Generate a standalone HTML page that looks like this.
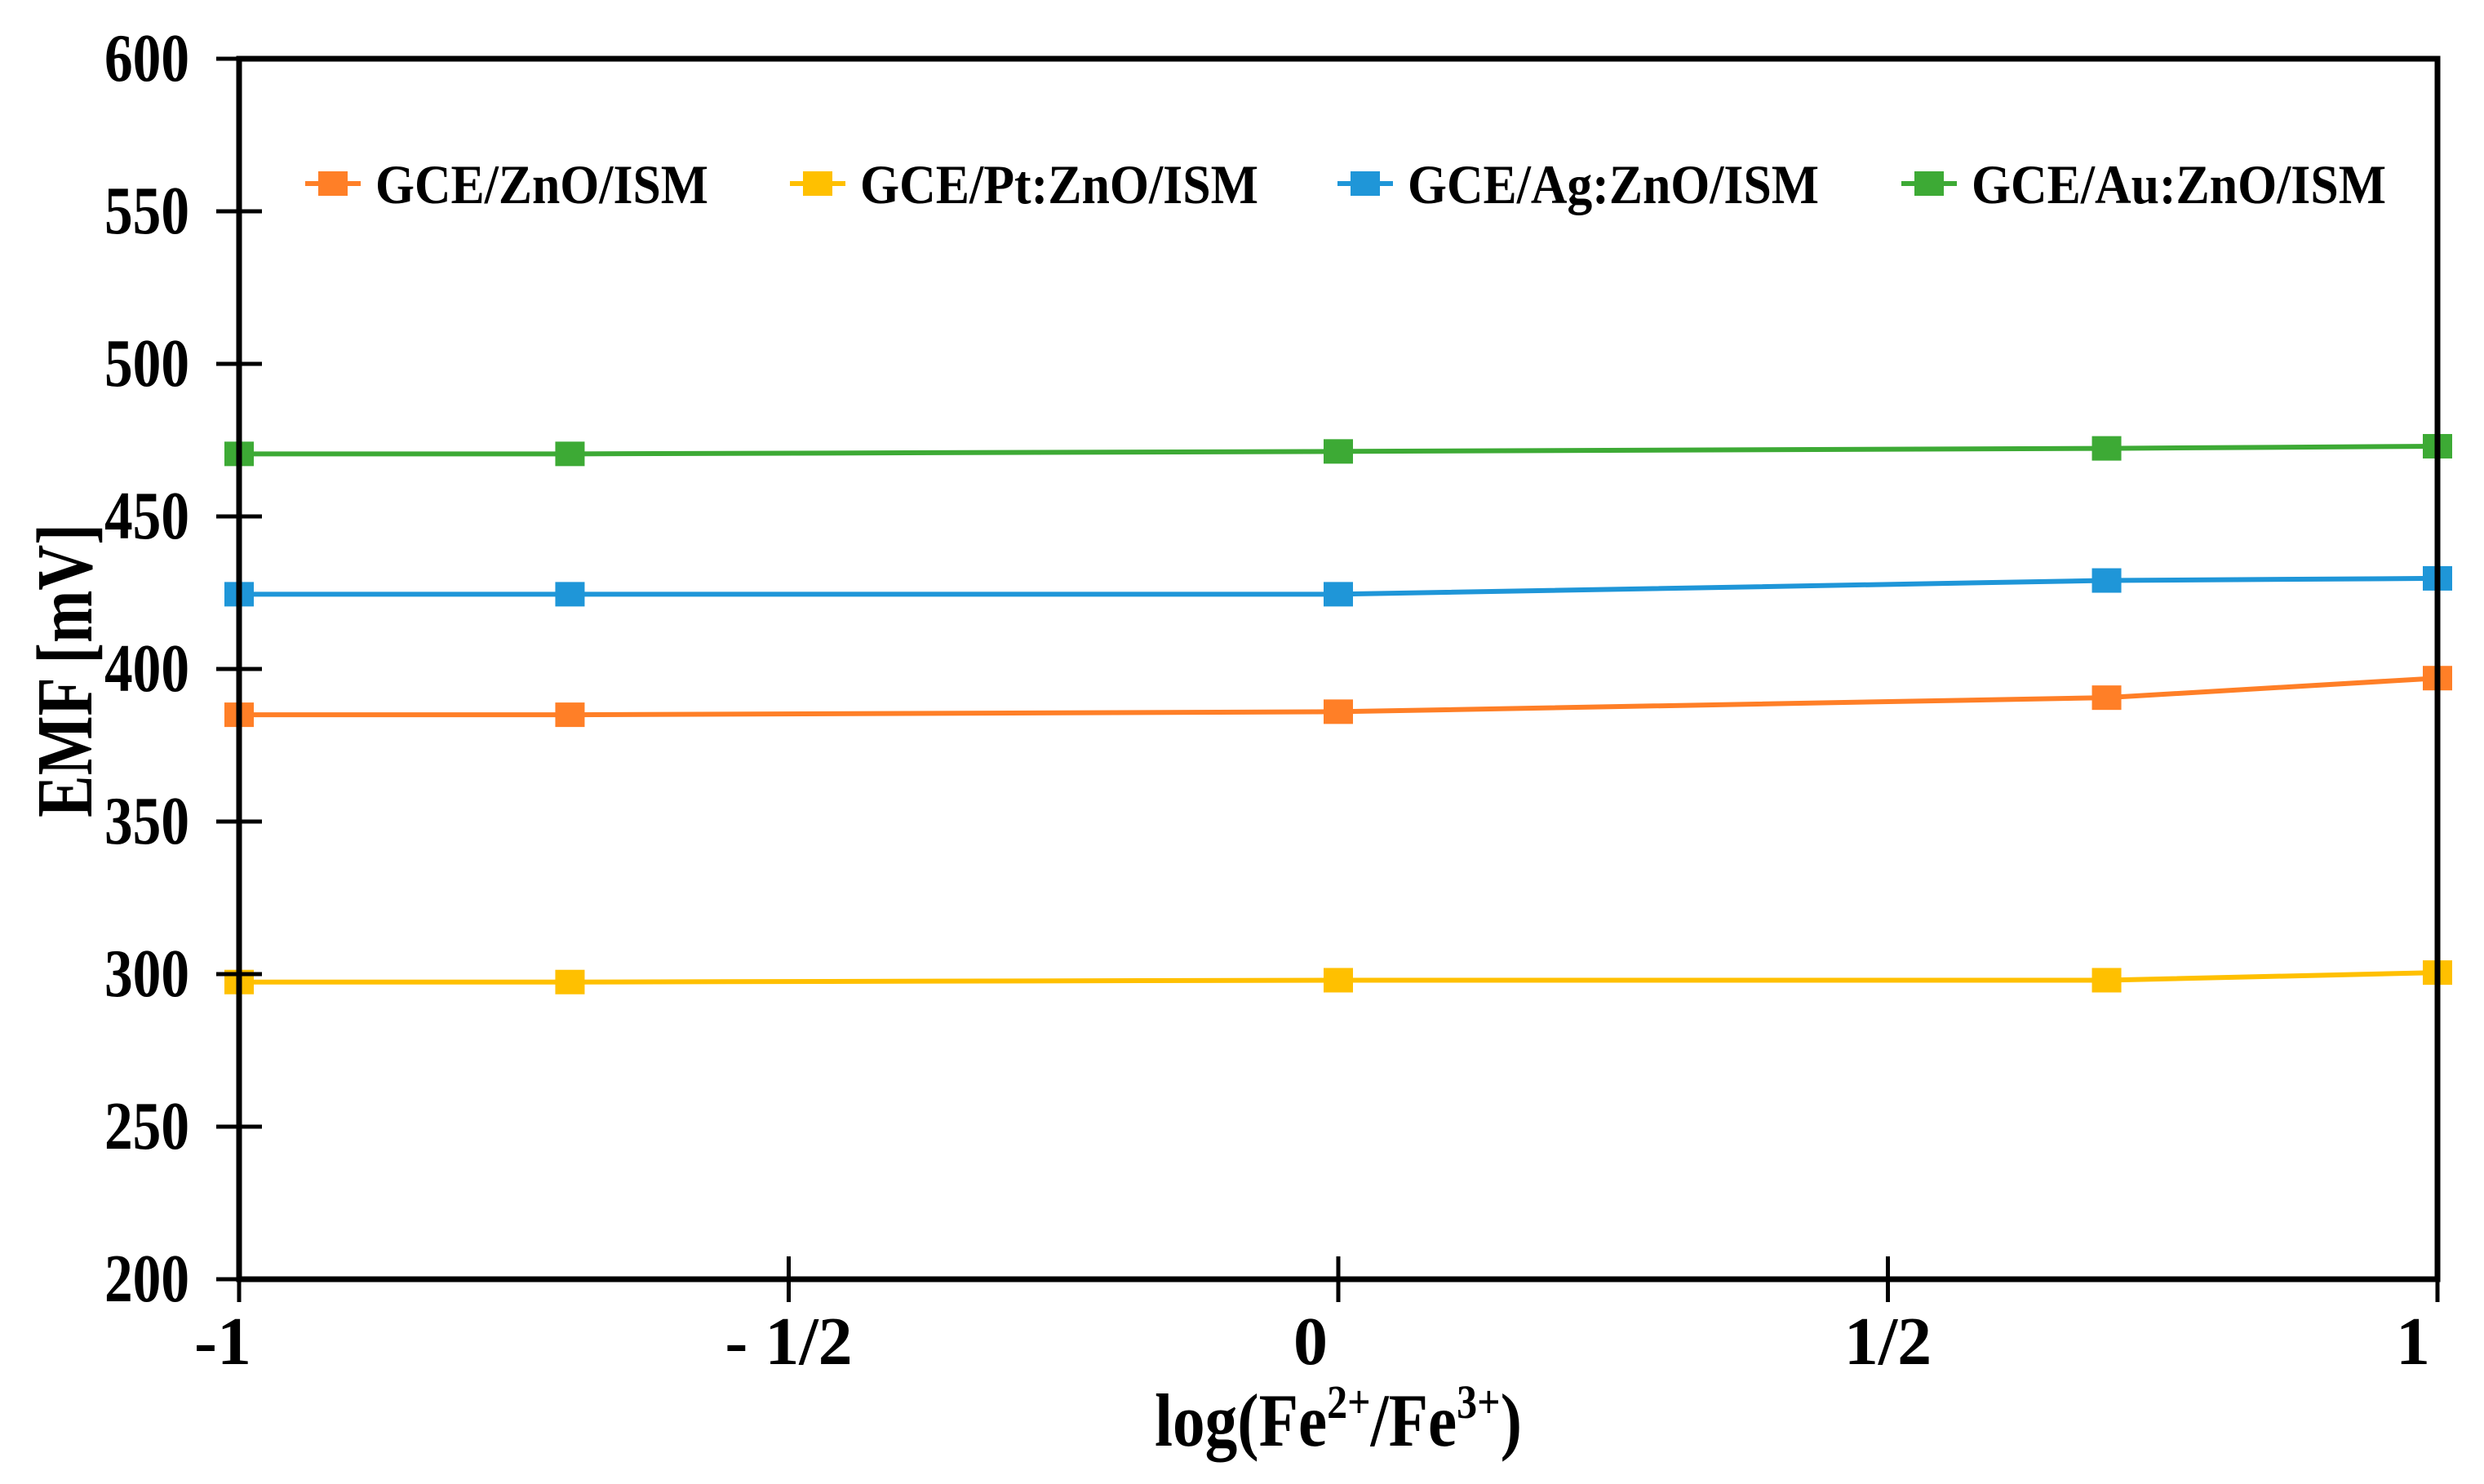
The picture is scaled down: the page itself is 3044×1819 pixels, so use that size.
<!DOCTYPE html>
<html><head><meta charset="utf-8"><style>
html,body{margin:0;padding:0;background:#fff;}
svg{display:block;font-family:"Liberation Serif","Times New Roman",serif;font-weight:bold;}
</style></head><body>
<svg id="chart" width="3044" height="1819" viewBox="0 0 3044 1819" xmlns="http://www.w3.org/2000/svg">
<g id="grid"></g><g id="series"></g><g id="axes"></g><g id="legend"></g>
<text x="0" y="0" font-size="98" textLength="360" lengthAdjust="spacingAndGlyphs" text-anchor="middle" transform="translate(112,822) rotate(-90)">EMF [mV]</text>
<text x="1640" y="1772" font-size="92" textLength="450" lengthAdjust="spacingAndGlyphs" text-anchor="middle">log(Fe<tspan font-size="58" dy="-34">2+</tspan><tspan dy="34">/Fe</tspan><tspan font-size="58" dy="-34">3+</tspan><tspan dy="34">)</tspan></text>
</svg>
<script>
const xValues = [-1, -0.699, 0, 0.699, 1];
const seriesNames = ["GCE/ZnO/ISM", "GCE/Pt:ZnO/ISM", "GCE/Ag:ZnO/ISM", "GCE/Au:ZnO/ISM"];
const znoValues = [385, 385, 386, 390.6, 397];
const ptValues = [297.4, 297.4, 298, 298, 300.5];
const agValues = [424.5, 424.5, 424.5, 429, 429.7];
const auValues = [470.5, 470.5, 471.3, 472.3, 473];
const yTicks = [200, 250, 300, 350, 400, 450, 500, 550, 600];
const xTicks = [-1, -0.5, 0, 0.5, 1];
const xTickLabels = ["-1", "- 1/2", "0", "1/2", "1"];

const colors = ["#FF7F27", "#FFC000", "#1F96D8", "#3DAA35"];
const allSeries = [znoValues, ptValues, agValues, auValues];
const L = 293, R = 2987, T = 72, B = 1568;
const xs = v => L + (v + 1) / 2 * (R - L);
const ys = v => B - (v - 200) / 400 * (B - T);
const NS = "http://www.w3.org/2000/svg";
function mk(tag, attrs, parent) {
  const e = document.createElementNS(NS, tag);
  for (const k in attrs) e.setAttribute(k, attrs[k]);
  parent.appendChild(e); return e;
}
const axes = document.getElementById('axes');
const sg = document.getElementById('series');
const lg = document.getElementById('legend');

allSeries.forEach((vals, si) => {
  const pts = vals.map((v, i) => xs(xValues[i]) + "," + ys(v)).join(" ");
  const pl = mk('polyline', {points: pts, fill: 'none', stroke: colors[si], 'stroke-width': 6}, sg);
  
  
  vals.forEach((v, i) => {
    const r = mk('rect', {x: xs(xValues[i]) - 18, y: ys(v) - 15, width: 36, height: 30, fill: colors[si]}, sg);
    
    
  });
});

const box = mk('rect', {x: L, y: T, width: R - L, height: B - T, fill: 'none', stroke: '#000', 'stroke-width': 7}, axes);



yTicks.forEach(v => {
  const t = mk('line', {x1: L - 28, x2: L + 28, y1: ys(v), y2: ys(v), stroke: '#000', 'stroke-width': 5}, axes);
  
  
  const tx = mk('text', {x: 232, y: ys(v) + 27, 'font-size': 84, 'text-anchor': 'end', textLength: 104, lengthAdjust: 'spacingAndGlyphs'}, axes);
  tx.textContent = v;
  
  
});
xTicks.forEach((v, i) => {
  const t = mk('line', {x1: xs(v), x2: xs(v), y1: B - 28, y2: B + 28, stroke: '#000', 'stroke-width': 5}, axes);
  
  
  const off = i === 0 ? -20 : (i === 4 ? -30 : (i === 2 ? -34 : 0));
  const tx = mk('text', {x: xs(v) + off, y: 1672, 'font-size': 84, 'text-anchor': 'middle'}, axes);
  tx.textContent = xTickLabels[i];
  
  
});

const legX = [408, 1002, 1673, 2364];
const legW = [408, 488, 504, 508];
seriesNames.forEach((n, i) => {
  const g = mk('g', {}, lg);
  
  
  mk('line', {x1: legX[i] - 34, x2: legX[i] + 34, y1: 225, y2: 225, stroke: colors[i], 'stroke-width': 6}, g);
  mk('rect', {x: legX[i] - 18, y: 210, width: 36, height: 30, fill: colors[i]}, g);
  const t = mk('text', {x: legX[i] + 52, y: 249, 'font-size': 68, textLength: legW[i], lengthAdjust: 'spacingAndGlyphs'}, g);
  t.textContent = n;
});
</script>
</body></html>
